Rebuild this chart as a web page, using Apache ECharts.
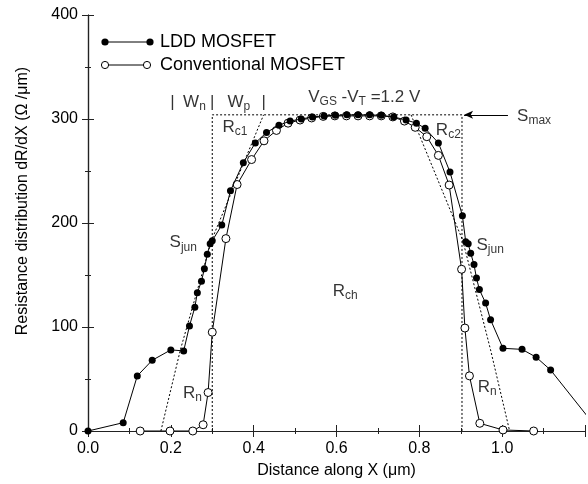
<!DOCTYPE html>
<html><head><meta charset="utf-8">
<script src="https://cdn.jsdelivr.net/npm/echarts@6/dist/echarts.min.js"></script>
<style>html,body{margin:0;padding:0;background:#fff}#c{width:588px;height:484px}</style>
</head><body><div id="c"></div>
<script>
// ---- data ----
const lddX = [0, 0.085, 0.119, 0.155, 0.200, 0.231, 0.245, 0.258, 0.264, 0.274, 0.281, 0.288, 0.295, 0.300, 0.323, 0.344, 0.375, 0.404, 0.431, 0.461, 0.488, 0.515, 0.542, 0.570, 0.597, 0.625, 0.652, 0.680, 0.708, 0.738, 0.768, 0.793, 0.814, 0.846, 0.874, 0.904, 0.912, 0.918, 0.924, 0.932, 0.938, 0.945, 0.960, 0.972, 1.002, 1.048, 1.082, 1.117, 1.234];
const lddY = [0, 8, 53, 68, 78, 77, 101, 119, 133, 144, 156, 170, 180, 183, 198, 231, 258, 277, 287, 294, 298, 300, 302, 303, 303.5, 304, 304, 304, 303.5, 302, 299, 296, 291, 277, 249, 207, 182, 180, 171, 160, 147, 136, 123, 107, 79.5, 78.5, 71, 58.6, 0];
const convX = [0.126, 0.198, 0.253, 0.278, 0.290, 0.300, 0.333, 0.360, 0.395, 0.425, 0.455, 0.483, 0.512, 0.540, 0.568, 0.596, 0.624, 0.652, 0.680, 0.708, 0.736, 0.764, 0.790, 0.818, 0.846, 0.872, 0.902, 0.910, 0.921, 0.946, 1.002, 1.076];
const convY = [0, 0, 0, 6, 37, 95, 185, 237, 261, 279, 289, 296, 299, 301, 302.5, 303, 303, 303, 303, 303, 302, 298, 292, 283, 265, 236.5, 155.5, 99, 53, 7.4, 1, 0];
// dotted construction lines
const boxX = [0.300, 0.300, 0.903, 0.903];
const boxY = [0, 304, 304, 0];
const slantLX = [0.176, 0.223, 0.298, 0.424];
const slantLY = [0, 78, 183, 304];
const slantRX = [0.780, 0.905, 0.972, 1.018];
const slantRY = [304, 183, 78, 0];
// arrow to Smax
const arrowFrom = [1.014, 304];
const arrowTo = [0.908, 304];
// annotations
const annX = [0.204, 0.257, 0.300, 0.364, 0.424, 0.667, 1.036, 0.355, 0.870, 0.230, 0.971, 0.621, 0.252, 0.964];
const annY = [316, 316, 316, 316, 316, 321, 303, 292, 289, 181, 179, 134, 36.5, 42];
const annText = ['|', '{b|W}{s|n}', '|', '{b|W}{s|p}', '|', '{b|V}{s|GS}{b| -V}{s|T}{b| =1.2 V}', '{b|S}{s|max}', '{b|R}{s|c1}', '{b|R}{s|c2}', '{b|S}{s|jun}', '{b|S}{s|jun}', '{b|R}{s|ch}', '{b|R}{s|n}', '{b|R}{s|n}'];
const annAlign = ['center','center','center','center','center','center','left','center','center','center','center','center','center','center'];
const xTicks = [0, 0.2, 0.4, 0.6, 0.8, 1.0, 1.2];
const yTicks = [0, 100, 200, 300, 400];

const FONT = '"Liberation Sans", Arial, Helvetica, sans-serif';
const zip = (xs, ys) => xs.map((x, i) => [x, ys[i]]);
const chart = echarts.init(document.getElementById('c'));

const axisCommon = {
  type: 'value',
  axisLine: { show: true, lineStyle: { color: '#222', width: 1.2 } },
  axisTick: { show: true, inside: true, length: 6, lineStyle: { color: '#222' } },
  minorTick: { show: true, splitNumber: 2, length: 3, lineStyle: { color: '#222' } },
  splitLine: { show: false },
};
const dotted = { color: '#000', width: 1, type: [2, 2] };
const rich = {
  b: { fontSize: 17, fontFamily: FONT, color: '#000' },
  s: { fontSize: 12, fontFamily: FONT, color: '#000', padding: [9, 0, 0, 0] }
};

chart.setOption({
  animation: false,
  backgroundColor: '#fff',
  grid: { left: 88, right: 0, top: 15, bottom: 53 },
  xAxis: [
    Object.assign({}, axisCommon, {
      position: 'bottom', min: xTicks[0], max: xTicks[xTicks.length - 1], interval: 0.2,
      axisLabel: { formatter: v => (v > 1.1 ? '' : v.toFixed(1)), color: '#000', fontSize: 16, fontFamily: FONT, margin: 10 },
      name: 'Distance along X (μm)', nameLocation: 'middle', nameGap: 32,
      nameTextStyle: { color: '#000', fontSize: 16, fontFamily: FONT }
    }),
    Object.assign({}, axisCommon, {
      position: 'top', min: xTicks[0], max: xTicks[xTicks.length - 1], interval: 0.2,
      axisLabel: { show: false }
    })
  ],
  yAxis: [
    Object.assign({}, axisCommon, {
      position: 'left', min: yTicks[0], max: yTicks[yTicks.length - 1], interval: 100,
      axisLabel: { color: '#000', fontSize: 16, fontFamily: FONT, margin: 10 }
    }),
    Object.assign({}, axisCommon, {
      position: 'right', min: yTicks[0], max: yTicks[yTicks.length - 1], interval: 100,
      axisLabel: { show: false }
    })
  ],
  graphic: [
    { type: 'text', x: 23, y: 201, rotation: Math.PI / 2,
      style: { text: 'Resistance distribution dR/dX (Ω /μm)', font: '16px ' + FONT, fill: '#000',
               align: 'center', verticalAlign: 'middle', textAlign: 'center', textVerticalAlign: 'middle' } },
    { type: 'line', shape: { x1: 105, y1: 42, x2: 150, y2: 42 }, style: { stroke: '#000', lineWidth: 1 } },
    { type: 'circle', shape: { cx: 105, cy: 42, r: 3.6 }, style: { fill: '#000' } },
    { type: 'circle', shape: { cx: 150, cy: 42, r: 3.6 }, style: { fill: '#000' } },
    { type: 'text', x: 160, y: 42, style: { text: 'LDD MOSFET', font: '18px ' + FONT, fill: '#000',
      align: 'left', verticalAlign: 'middle', textAlign: 'left', textVerticalAlign: 'middle' } },
    { type: 'line', shape: { x1: 105, y1: 65, x2: 147, y2: 65 }, style: { stroke: '#000', lineWidth: 1 } },
    { type: 'circle', shape: { cx: 105, cy: 65, r: 3.6 }, style: { fill: '#fff', stroke: '#000', lineWidth: 1 } },
    { type: 'circle', shape: { cx: 147, cy: 65, r: 3.6 }, style: { fill: '#fff', stroke: '#000', lineWidth: 1 } },
    { type: 'text', x: 160, y: 65, style: { text: 'Conventional MOSFET', font: '18px ' + FONT, fill: '#000',
      align: 'left', verticalAlign: 'middle', textAlign: 'left', textVerticalAlign: 'middle' } }
  ],
  series: [
    { type: 'line', data: zip(boxX, boxY), showSymbol: false, symbol: 'none', lineStyle: dotted, silent: true, z: 1 },
    { type: 'line', data: zip(slantLX, slantLY), showSymbol: false, symbol: 'none', lineStyle: dotted, silent: true, z: 1 },
    { type: 'line', data: zip(slantRX, slantRY), showSymbol: false, symbol: 'none', lineStyle: dotted, silent: true, z: 1,
      markLine: {
        silent: true, symbol: ['none', 'arrow'], symbolSize: [6, 9],
        lineStyle: { color: '#000', width: 1, type: 'solid' }, label: { show: false },
        data: [[{ coord: arrowFrom }, { coord: arrowTo }]]
      } },
    { name: 'Conventional MOSFET', type: 'line', data: zip(convX, convY), symbol: 'circle', symbolSize: 8,
      lineStyle: { color: '#000', width: 1 }, itemStyle: { color: '#fff', borderColor: '#000', borderWidth: 1 }, z: 3 },
    { name: 'LDD MOSFET', type: 'line', data: zip(lddX, lddY), symbol: 'circle', symbolSize: 7,
      lineStyle: { color: '#000', width: 1 }, itemStyle: { color: '#000' }, z: 4 },
    { type: 'scatter', symbolSize: 0, silent: true, z: 5,
      data: annX.map((x, i) => ({ value: [x, annY[i]],
        label: { show: true, position: 'inside', formatter: annText[i], align: annAlign[i], rich: rich, color: '#000', fontSize: 17, fontFamily: FONT } })) }
  ]
});
</script>
</body></html>
